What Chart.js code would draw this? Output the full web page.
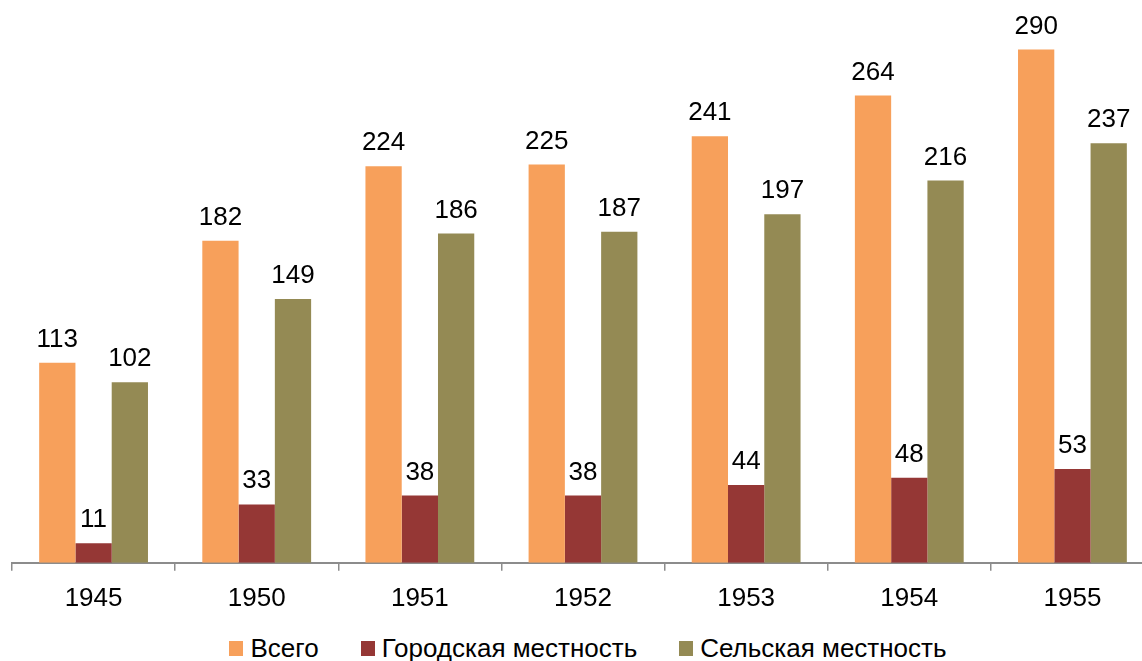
<!DOCTYPE html>
<html>
<head>
<meta charset="utf-8">
<script src="https://cdn.jsdelivr.net/npm/chart.js@4"></script>
<style>
  html, body { margin: 0; padding: 0; background: #fff; overflow: hidden; }
  #wrap { position: relative; width: 1154px; height: 661px; }
  #bar-chart { position: absolute; left: 0; top: 0; }
  #legend {
    position: absolute; left: 0; top: 633px; width: 1132px; padding-left: 22px;
    display: flex; justify-content: center; align-items: center;
    font: 26px "Liberation Sans", Arial, sans-serif; color: #000; line-height: 30px;
  }
  .item { display: flex; align-items: center; margin: 0 21px; }
  .box { width: 14px; height: 15px; margin-right: 7px; }
</style>
</head>
<body>
<div id="wrap">
  <canvas id="bar-chart" width="1154" height="626"></canvas>
  <div id="legend"></div>
</div>
<script>
const years = ["1945", "1950", "1951", "1952", "1953", "1954", "1955"];
const totalValues = [113, 182, 224, 225, 241, 264, 290];
const urbanValues = [11, 33, 38, 38, 44, 48, 53];
const ruralValues = [102, 149, 186, 187, 197, 216, 237];
const seriesNames = ["Всего", "Городская местность", "Сельская местность"];
const seriesColors = ["#F7A05B", "#953735", "#948A54"];

// value labels above each bar
const valueLabels = {
  id: 'valueLabels',
  afterDatasetsDraw(chart) {
    const ctx = chart.ctx;
    ctx.save();
    ctx.font = '26px "Liberation Sans", Arial, sans-serif';
    ctx.fillStyle = '#000';
    ctx.textAlign = 'center';
    ctx.textBaseline = 'alphabetic';
    chart.data.datasets.forEach((ds, i) => {
      chart.getDatasetMeta(i).data.forEach((bar, j) => {
        ctx.fillText(ds.data[j], bar.x, bar.y - 16);
      });
    });
    ctx.restore();
  }
};

const chart = new Chart(document.getElementById("bar-chart"), {
  type: 'bar',
  data: {
    labels: years,
    datasets: [
      { label: seriesNames[0], data: totalValues, backgroundColor: seriesColors[0] },
      { label: seriesNames[1], data: urbanValues, backgroundColor: seriesColors[1] },
      { label: seriesNames[2], data: ruralValues, backgroundColor: seriesColors[2] }
    ]
  },
  options: {
    responsive: false,
    animation: false,
    layout: { padding: { left: 12, right: 0, top: 0, bottom: 0 } },
    datasets: { bar: { categoryPercentage: 0.667, barPercentage: 1.0 } },
    plugins: {
      tooltip: { enabled: false },
      legend: { display: false }
    },
    scales: {
      x: {
        border: { color: '#8c8c8c', width: 2 },
        grid: { drawOnChartArea: false, color: '#8c8c8c', lineWidth: 1.5, tickLength: 8, offset: true },
        ticks: {
          color: '#000',
          padding: 12,
          font: { family: '"Liberation Sans", Arial, sans-serif', size: 26 }
        }
      },
      y: { display: false, min: 0, max: 318 }
    }
  },
  plugins: [valueLabels]
});

// legend as html below the canvas
const legendEl = document.getElementById("legend");
seriesNames.forEach((name, i) => {
  const item = document.createElement("div");
  item.className = "item";
  const box = document.createElement("span");
  box.className = "box";
  box.style.background = seriesColors[i];
  const txt = document.createElement("span");
  txt.textContent = name;
  item.appendChild(box);
  item.appendChild(txt);
  legendEl.appendChild(item);
});
</script>
</body>
</html>
